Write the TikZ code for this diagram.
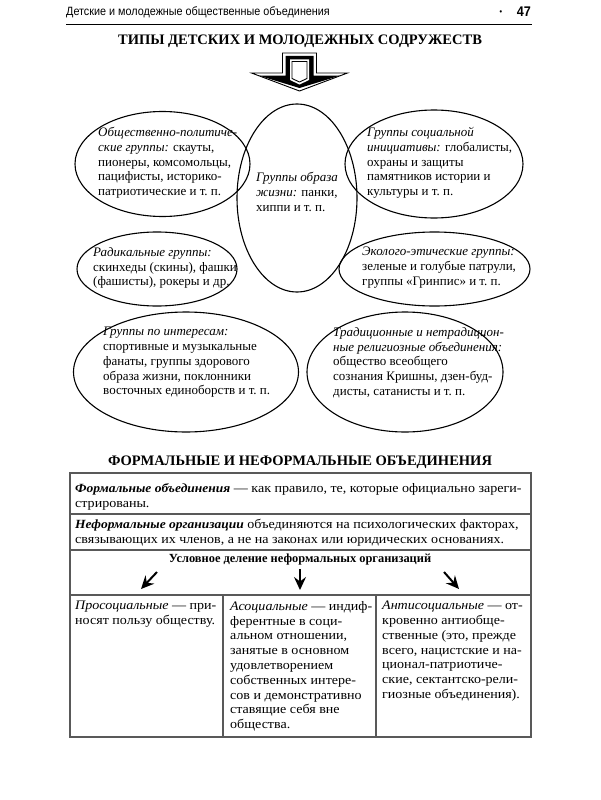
\documentclass[tikz,border=0pt]{standalone}
\usepackage{fontspec}
\setmainfont{Liberation Serif}
\newfontfamily\hdrfont[FakeStretch=0.9]{Liberation Sans}
\newfontfamily\tabfont[FakeStretch=1.08]{Liberation Serif}
\newcommand\bitab[1]{{\fontsize{12.5}{14.8}\selectfont\bfseries\itshape #1}}
\usetikzlibrary{shapes.geometric,arrows.meta}
\begin{document}
\begin{tikzpicture}[x=1pt,y=-1pt,
  ell/.style={draw,ellipse,line width=1.1pt,inner sep=0pt},
  body/.style={anchor=north west,inner sep=0pt,align=left,font=\fontsize{13}{14.8}\selectfont},
  tbody/.style={anchor=north west,inner sep=0pt,align=left,font=\tabfont\fontsize{13}{14.8}\selectfont},
  ttl/.style={font=\bfseries\fontsize{14.5}{18}\selectfont,inner sep=0pt},
  tline/.style={draw=black!65,line width=1.1pt},
  sarrow/.style={line width=2pt,-{Stealth[length=13pt,width=12pt,inset=4.5pt]}}]
\useasboundingbox (0,0) rectangle (600,800);
\fill[white] (0,0) rectangle (600,800);
% header
\node[anchor=west,inner sep=0pt,font=\hdrfont\fontsize{12}{14}\selectfont] (hdr) at (66,12) {Детские и молодежные общественные объединения};
\node[anchor=east,inner sep=0pt,font=\hdrfont\bfseries\fontsize{14}{16}\selectfont] (pg) at (531,12) {47};
\node[inner sep=0pt,font=\hdrfont\bfseries\fontsize{8}{8}\selectfont] (dot) at (501,13) {•};
\coordinate (hl) at (66,25);
\coordinate (hr) at (532,25);
\draw[line width=1pt] (hl) -- (hr);
% title
\node[ttl] (t1) at (300,41) {ТИПЫ ДЕТСКИХ И МОЛОДЕЖНЫХ СОДРУЖЕСТВ};
% big arrow
\begin{scope}[shift={(299.5,0)}]
\filldraw[draw=black,fill=white,line width=0.9pt] (-17,53) -- (17,53) -- (17,73) -- (48,73) -- (0,91) -- (-48,73) -- (-17,73) -- cycle;
\fill[black] (-14,56) -- (14,56) -- (14,75.5) -- (41,75.5) -- (0,88) -- (-41,75.5) -- (-14,75.5) -- cycle;
\fill[white] (-9.5,59.5) -- (9.5,59.5) -- (9.5,80) -- (0,84.5) -- (-9.5,80) -- cycle;
\filldraw[draw=black,fill=white,line width=0.9pt] (-7.5,61.5) -- (7.5,61.5) -- (7.5,78.5) -- (0,82) -- (-7.5,78.5) -- cycle;
\end{scope}
% ellipses
\node[ell,minimum width=175pt,minimum height=105pt] (e1) at (162.5,164) {};
\node[ell,minimum width=120pt,minimum height=188pt] (e2) at (297,198) {};
\node[ell,minimum width=178pt,minimum height=108pt] (e3) at (434,164) {};
\node[ell,minimum width=160pt,minimum height=74pt] (e4) at (157,269) {};
\node[ell,minimum width=191pt,minimum height=74pt] (e5) at (434.5,269) {};
\node[ell,minimum width=225pt,minimum height=120pt] (e6) at (186,372) {};
\node[ell,minimum width=196pt,minimum height=120pt] (e7) at (405,372) {};
\node[body] (x1) at (98,127) {\textit{Общественно-политиче-}\\\textit{ские группы:} скауты,\\пионеры, комсомольцы,\\пацифисты, историко-\\патриотические и т.~п.};
\node[body] (x2) at (256,172) {\textit{Группы образа}\\\textit{жизни:} панки,\\хиппи и т.~п.};
\node[body] (x3) at (367,127) {\textit{Группы социальной}\\\textit{инициативы:} глобалисты,\\охраны и защиты\\памятников истории и\\культуры и т.~п.};
\node[body] (x4) at (93,247) {\textit{Радикальные группы:}\\скинхеды (скины), фашки\\(фашисты), рокеры и др.};
\node[body] (x5) at (362,247) {\textit{Эколого-этические группы:}\\зеленые и голубые патрули,\\группы «Гринпис» и т.~п.};
\node[body] (x6) at (103,327) {\textit{Группы по интересам:}\\спортивные и музыкальные\\фанаты, группы здорового\\образа жизни, поклонники\\восточных единоборств и т.~п.};
\node[body] (x7) at (333,327) {\textit{Традиционные и нетрадицион-}\\\textit{ные религиозные объединения:}\\общество всеобщего\\сознания Кришны, дзен-буд-\\дисты, сатанисты и т.~п.};
% second title
\node[ttl] (t2) at (300,462) {ФОРМАЛЬНЫЕ И НЕФОРМАЛЬНЫЕ ОБЪЕДИНЕНИЯ};
% table
\draw[tline] (70,473) rectangle (531,737);
\draw[tline] (70,514) -- (531,514);
\draw[tline] (70,550) -- (531,550);
\draw[tline] (70,595) -- (531,595);
\draw[tline] (223,595) -- (223,737);
\draw[tline] (376,595) -- (376,737);
\node[tbody] (r1) at (75,483) {\bitab{Формальные объединения} — как правило, те, которые официально зареги-\\стрированы.};
\node[tbody] (r2) at (75,519) {\bitab{Неформальные организации} объединяются на психологических факторах,\\связывающих их членов, а не на законах или юридических основаниях.};
\node[inner sep=0pt,font=\bfseries\fontsize{12.4}{14.8}\selectfont] (r3) at (300,560) {Условное деление неформальных организаций};
\coordinate (a1s) at (157,572);
\coordinate (a1e) at (141,589);
\coordinate (a2s) at (300,569);
\coordinate (a2e) at (300,590);
\coordinate (a3s) at (444,572);
\coordinate (a3e) at (459,589);
\draw[sarrow] (a1s) -- (a1e);
\draw[sarrow] (a2s) -- (a2e);
\draw[sarrow] (a3s) -- (a3e);
\node[tbody] (c1) at (75,601) {\textit{Просоциальные} — при-\\носят пользу обществу.};
\node[tbody] (c2) at (230,601) {\textit{Асоциальные} — индиф-\\ферентные в соци-\\альном отношении,\\занятые в основном\\удовлетворением\\собственных интере-\\сов и демонстративно\\ставящие себя вне\\общества.};
\node[tbody] (c3) at (382,601) {\textit{Антисоциальные} — от-\\кровенно антиобще-\\ственные (это, прежде\\всего, нацистские и на-\\ционал-патриотиче-\\ские, сектантско-рели-\\гиозные объединения).};
\end{tikzpicture}
\end{document}
